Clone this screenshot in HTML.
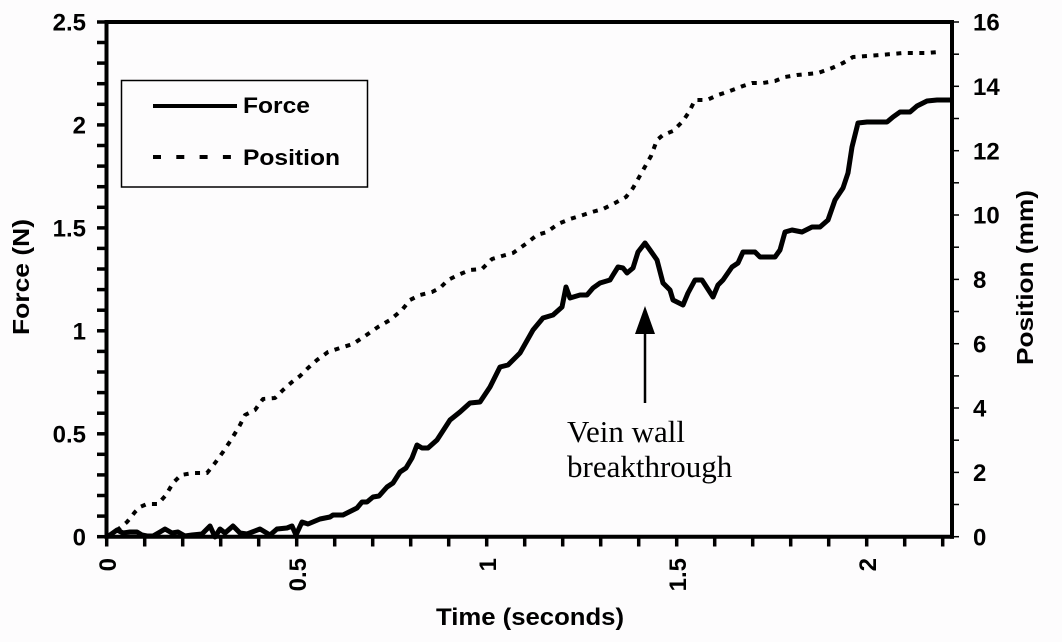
<!DOCTYPE html>
<html>
<head>
<meta charset="utf-8">
<style>
  html, body { margin: 0; padding: 0; background: #fdfcfd; }
  svg { display: block; }
  .b { font-family: "Liberation Sans", Arial, sans-serif; font-weight: bold; fill: #000; }
  .t { font-family: "Liberation Serif", "Times New Roman", serif; fill: #000; }
</style>
</head>
<body>
<svg width="1062" height="642" viewBox="0 0 1062 642" xmlns="http://www.w3.org/2000/svg">
  <rect x="0" y="0" width="1062" height="642" fill="#fdfcfd"/>

  <!-- Legend -->
  <rect x="121.5" y="80.5" width="246" height="106.5" fill="none" stroke="#000" stroke-width="1.5"/>
  <line x1="153" y1="106" x2="237" y2="106" stroke="#000" stroke-width="4"/>
  <text class="b" x="243" y="113" font-size="22" textLength="67" lengthAdjust="spacingAndGlyphs">Force</text>
  <line x1="153" y1="157" x2="236" y2="157" stroke="#000" stroke-width="4" stroke-dasharray="8 15.3"/>
  <text class="b" x="243" y="165" font-size="22" textLength="97" lengthAdjust="spacingAndGlyphs">Position</text>

  <!-- Position series (dotted) -->
  <polyline fill="none" stroke="#000" stroke-width="4" stroke-dasharray="5 6.5" stroke-linejoin="round"
    points="107,537 112,533 120,528 127,522 135,512 140,507 147,504 158,504 166,495 173,483 181,475 193,473 207,473 215,463 223,452 231,440 240,425 245,415 255,410 263,399 275,398 283,390 292,382 300,376 308,368 317,360 328,352 340,348 353,344 365,336 378,327 390,320 402,310 410,300 420,295 432,292 440,288 448,280 458,275 470,270 482,269 492,259 502,256 513,253 527,243 537,235 547,232 558,224 570,219 583,215 592,212 603,209 615,203 626,197 633,188 642,172 651,156 657,140 663,135 673,131 683,121 689,112 695,100 707,100 718,95 730,91 743,86 752,83 763,83 775,81 785,77 797,75 808,74 818,73 832,68 843,63 853,57 867,56 880,55 892,54 903,53 915,53 927,53 938,52"/>

  <!-- Force series (solid) -->
  <polyline fill="none" stroke="#000" stroke-width="5" stroke-linejoin="round"
    points="107,536 110,535 117,530 123,533 130,532 137,532 142,535 147,536 153,536 160,532 165,529 172,533 178,532 185,536 192,535 202,534 210,526 215,537 220,529 225,533 233,526 240,533 247,534 260,529 270,535 277,529 287,528 292,526 296,535 302,522 308,524 320,519 330,517 333,515 343,515 353,510 357,508 362,502 367,502 373,497 379,496 387,487 393,483 400,472 406,468 412,458 417,445 422,448 428,448 437,440 450,420 460,412 470,403 480,402 490,387 500,367 508,365 520,353 533,330 543,318 553,315 562,307 566,287 570,298 580,295 587,295 593,288 600,283 610,280 613,275 618,267 623,268 627,273 633,268 638,252 645,243 650,250 657,260 663,283 670,290 673,300 683,305 688,293 695,280 702,280 713,297 718,285 723,280 732,267 738,263 743,252 755,252 760,257 775,257 780,250 785,232 792,230 802,232 812,227 820,227 828,220 835,200 843,188 848,173 852,147 858,123 867,122 887,122 893,117 900,112 910,112 917,106 927,101 937,100 950,100"/>

  <!-- Annotation -->
  <line x1="645" y1="330" x2="645" y2="403" stroke="#000" stroke-width="2.5"/>
  <polygon points="645,306 635,334 655,334" fill="#000"/>
  <text class="t" x="567" y="442" font-size="31">Vein wall</text>
  <text class="t" x="567" y="477" font-size="31">breakthrough</text>

  <!-- Frame -->
  <line x1="104.5" y1="22" x2="954" y2="22" stroke="#000" stroke-width="4"/>
  <line x1="106.5" y1="20" x2="106.5" y2="538.7" stroke="#000" stroke-width="4"/>
  <line x1="952" y1="20" x2="952" y2="538.7" stroke="#000" stroke-width="4"/>
  <line x1="104.5" y1="536.7" x2="954" y2="536.7" stroke="#000" stroke-width="4"/>

  <!-- Left ticks (every 0.1) -->
  <g stroke="#000" stroke-width="3.5">
    <line x1="97" y1="536.7" x2="105" y2="536.7"/>
    <line x1="97" y1="516.1" x2="105" y2="516.1"/>
    <line x1="97" y1="495.5" x2="105" y2="495.5"/>
    <line x1="97" y1="474.9" x2="105" y2="474.9"/>
    <line x1="97" y1="454.3" x2="105" y2="454.3"/>
    <line x1="97" y1="433.8" x2="105" y2="433.8"/>
    <line x1="97" y1="413.2" x2="105" y2="413.2"/>
    <line x1="97" y1="392.6" x2="105" y2="392.6"/>
    <line x1="97" y1="372.0" x2="105" y2="372.0"/>
    <line x1="97" y1="351.4" x2="105" y2="351.4"/>
    <line x1="97" y1="330.8" x2="105" y2="330.8"/>
    <line x1="97" y1="310.2" x2="105" y2="310.2"/>
    <line x1="97" y1="289.6" x2="105" y2="289.6"/>
    <line x1="97" y1="269.0" x2="105" y2="269.0"/>
    <line x1="97" y1="248.4" x2="105" y2="248.4"/>
    <line x1="97" y1="227.9" x2="105" y2="227.9"/>
    <line x1="97" y1="207.3" x2="105" y2="207.3"/>
    <line x1="97" y1="186.7" x2="105" y2="186.7"/>
    <line x1="97" y1="166.1" x2="105" y2="166.1"/>
    <line x1="97" y1="145.5" x2="105" y2="145.5"/>
    <line x1="97" y1="124.9" x2="105" y2="124.9"/>
    <line x1="97" y1="104.3" x2="105" y2="104.3"/>
    <line x1="97" y1="83.7" x2="105" y2="83.7"/>
    <line x1="97" y1="63.1" x2="105" y2="63.1"/>
    <line x1="97" y1="42.5" x2="105" y2="42.5"/>
    <line x1="97" y1="22" x2="105" y2="22"/>
  </g>

  <!-- Bottom ticks (every 0.1 s) -->
  <g stroke="#000" stroke-width="3.5">
    <line x1="106.7" y1="538" x2="106.7" y2="546.5"/>
    <line x1="144.7" y1="538" x2="144.7" y2="546.5"/>
    <line x1="182.7" y1="538" x2="182.7" y2="546.5"/>
    <line x1="220.7" y1="538" x2="220.7" y2="546.5"/>
    <line x1="258.7" y1="538" x2="258.7" y2="546.5"/>
    <line x1="296.7" y1="538" x2="296.7" y2="546.5"/>
    <line x1="334.7" y1="538" x2="334.7" y2="546.5"/>
    <line x1="372.7" y1="538" x2="372.7" y2="546.5"/>
    <line x1="410.7" y1="538" x2="410.7" y2="546.5"/>
    <line x1="448.7" y1="538" x2="448.7" y2="546.5"/>
    <line x1="486.7" y1="538" x2="486.7" y2="546.5"/>
    <line x1="524.7" y1="538" x2="524.7" y2="546.5"/>
    <line x1="562.7" y1="538" x2="562.7" y2="546.5"/>
    <line x1="600.7" y1="538" x2="600.7" y2="546.5"/>
    <line x1="638.7" y1="538" x2="638.7" y2="546.5"/>
    <line x1="676.7" y1="538" x2="676.7" y2="546.5"/>
    <line x1="714.7" y1="538" x2="714.7" y2="546.5"/>
    <line x1="752.7" y1="538" x2="752.7" y2="546.5"/>
    <line x1="790.7" y1="538" x2="790.7" y2="546.5"/>
    <line x1="828.7" y1="538" x2="828.7" y2="546.5"/>
    <line x1="866.7" y1="538" x2="866.7" y2="546.5"/>
    <line x1="904.7" y1="538" x2="904.7" y2="546.5"/>
    <line x1="942.7" y1="538" x2="942.7" y2="546.5"/>
  </g>

  <!-- Right ticks (every 1 mm) -->
  <g stroke="#000" stroke-width="1.5">
    <line x1="953" y1="536.7" x2="959" y2="536.7"/>
    <line x1="953" y1="504.5" x2="959" y2="504.5"/>
    <line x1="953" y1="472.4" x2="959" y2="472.4"/>
    <line x1="953" y1="440.2" x2="959" y2="440.2"/>
    <line x1="953" y1="408.0" x2="959" y2="408.0"/>
    <line x1="953" y1="375.9" x2="959" y2="375.9"/>
    <line x1="953" y1="343.7" x2="959" y2="343.7"/>
    <line x1="953" y1="311.5" x2="959" y2="311.5"/>
    <line x1="953" y1="279.4" x2="959" y2="279.4"/>
    <line x1="953" y1="247.2" x2="959" y2="247.2"/>
    <line x1="953" y1="215.0" x2="959" y2="215.0"/>
    <line x1="953" y1="182.8" x2="959" y2="182.8"/>
    <line x1="953" y1="150.7" x2="959" y2="150.7"/>
    <line x1="953" y1="118.5" x2="959" y2="118.5"/>
    <line x1="953" y1="86.3" x2="959" y2="86.3"/>
    <line x1="953" y1="54.2" x2="959" y2="54.2"/>
    <line x1="953" y1="22" x2="959" y2="22"/>
  </g>

  <!-- Left tick labels -->
  <g class="b" font-size="24" text-anchor="end">
    <text x="86" y="545.3">0</text>
    <text x="86" y="442.4">0.5</text>
    <text x="86" y="339.4">1</text>
    <text x="86" y="236.5">1.5</text>
    <text x="86" y="133.5">2</text>
    <text x="86" y="30.6">2.5</text>
  </g>

  <!-- Right tick labels -->
  <g class="b" font-size="24" text-anchor="start">
    <text x="973" y="545.3">0</text>
    <text x="973" y="481.0">2</text>
    <text x="973" y="416.6">4</text>
    <text x="973" y="352.3">6</text>
    <text x="973" y="288.0">8</text>
    <text x="973" y="223.6">10</text>
    <text x="973" y="159.3">12</text>
    <text x="973" y="94.9">14</text>
    <text x="973" y="30.6">16</text>
  </g>

  <!-- Bottom tick labels (rotated) -->
  <g class="b" font-size="24" text-anchor="end">
    <text transform="translate(116,558) rotate(-90)">0</text>
    <text transform="translate(306,558) rotate(-90)">0.5</text>
    <text transform="translate(496,558) rotate(-90)">1</text>
    <text transform="translate(686,558) rotate(-90)">1.5</text>
    <text transform="translate(876,558) rotate(-90)">2</text>
  </g>

  <!-- Axis titles -->
  <text class="b" font-size="23" text-anchor="middle" transform="translate(29,277) rotate(-90)" textLength="116" lengthAdjust="spacingAndGlyphs">Force (N)</text>
  <text class="b" font-size="23" text-anchor="middle" transform="translate(1033,277.5) rotate(-90)" textLength="175" lengthAdjust="spacingAndGlyphs">Position (mm)</text>
  <text class="b" font-size="24" text-anchor="middle" x="530" y="625" textLength="188" lengthAdjust="spacingAndGlyphs">Time (seconds)</text>
</svg>
</body>
</html>
